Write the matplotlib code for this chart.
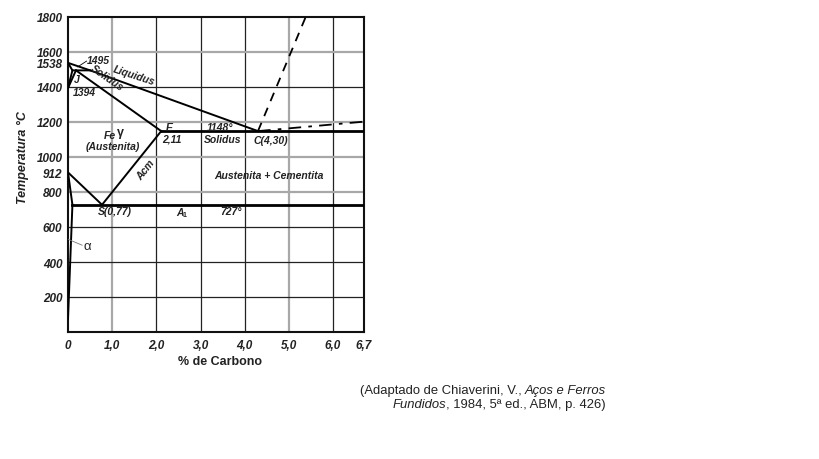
import matplotlib
matplotlib.use("Agg")
import matplotlib.pyplot as plt
from matplotlib.offsetbox import TextArea, HPacker, VPacker, AnnotationBbox

plt.rcParams["font.family"] = ["Liberation Sans", "DejaVu Sans"]

# axis ticks
x_ticks = [0, 1.0, 2.0, 3.0, 4.0, 5.0, 6.0, 6.7]
x_ticklabels = ["0", "1,0", "2,0", "3,0", "4,0", "5,0", "6,0", "6,7"]
y_ticks = [200, 400, 600, 800, 912, 1000, 1200, 1400, 1538, 1600, 1800]
y_ticklabels = ["200", "400", "600", "800", "912", "1000", "1200", "1400", "1538", "1600", "1800"]

# grid lines (dark / light)
vgrid_dark = [2.0, 3.0, 4.0, 6.0]
vgrid_light = [1.0, 5.0]
hgrid_dark = [200, 400, 600, 1400]
hgrid_light = [800, 1000, 1200, 1600]

# phase boundaries (% C, temperature C) - drawn positions
liquidus_x = [0.0, 0.5, 4.3]
liquidus_y = [1538, 1495, 1148]
delta_x = [0.0, 0.1, 0.5]
delta_y = [1538, 1495, 1495]
delta_low1_x = [0.0, 0.1]
delta_low1_y = [1394, 1495]
delta_low2_x = [0.0, 0.18]
delta_low2_y = [1394, 1495]
solidus_x = [0.18, 2.11]
solidus_y = [1495, 1148]
eutectic_x = [2.11, 6.7]
eutectic_y = [1148, 1148]
acm_x = [2.11, 0.77]
acm_y = [1148, 727]
a3_x = [0.0, 0.77]
a3_y = [912, 727]
gp_x = [0.0, 0.1]
gp_y = [912, 727]
solvus_x = [0.1, 0.0]
solvus_y = [727, 75]
eutectoid_x = [0.1, 6.7]
eutectoid_y = [727, 727]
cem_liq_x = [4.3, 5.38]
cem_liq_y = [1148, 1800]
dashdot_x = [4.3, 6.7]
dashdot_y = [1148, 1202]

fig = plt.figure(figsize=(8.19, 4.6), dpi=100)
ax = fig.add_axes([68 / 819, 1 - 333 / 460, 296 / 819, 315 / 460])
ax.set_xlim(0, 6.7)
ax.set_ylim(0, 1800)

for x in vgrid_dark:
    ax.axvline(x, color="#222222", lw=0.9, zorder=1)
for x in vgrid_light:
    ax.axvline(x, color="#a8a8a8", lw=1.6, zorder=1)
for y in hgrid_dark:
    ax.axhline(y, color="#222222", lw=0.9, zorder=1)
for y in hgrid_light:
    ax.axhline(y, color="#a8a8a8", lw=1.6, zorder=1)

lk = dict(color="black", lw=1.4, zorder=3)
ax.plot(liquidus_x, liquidus_y, **lk)
ax.plot(delta_x, delta_y, **lk)
ax.plot(delta_low1_x, delta_low1_y, **lk)
ax.plot(delta_low2_x, delta_low2_y, **lk)
ax.plot(solidus_x, solidus_y, **lk)
ax.plot(acm_x, acm_y, **lk)
ax.plot(a3_x, a3_y, **lk)
ax.plot(gp_x, gp_y, **lk)
ax.plot(solvus_x, solvus_y, **lk)
ax.plot(eutectic_x, eutectic_y, color="black", lw=2.0, zorder=3)
ax.plot(eutectoid_x, eutectoid_y, color="black", lw=2.0, zorder=3)
ax.plot(cem_liq_x, cem_liq_y, color="black", lw=1.3, ls=(0, (5, 4)), zorder=3)
ax.plot(dashdot_x, dashdot_y, color="black", lw=1.3, ls=(0, (7, 4, 2, 4)), zorder=3)

ax.set_xticks(x_ticks)
ax.set_xticklabels(x_ticklabels)
ax.set_yticks(y_ticks)
ax.set_yticklabels(y_ticklabels)
ax.tick_params(length=0, labelsize=8.5, colors="#222222", pad=4)
for lab in ax.get_xticklabels() + ax.get_yticklabels():
    lab.set_fontweight("bold")
    lab.set_fontstyle("italic")
ax.tick_params(axis="x", pad=5)
ax.grid(False)
for s in ax.spines.values():
    s.set_linewidth(1.5)
    s.set_color("#111111")

ax.set_ylabel("Temperatura °C", fontsize=9, fontweight="bold", fontstyle="italic", color="#222222")
ax.yaxis.set_label_coords(-0.133, 0.556)
ax.set_xlabel("% de Carbono", fontsize=9, fontweight="bold", color="#222222")
ax.xaxis.set_label_coords(0.514, -0.073)

tk = dict(fontsize=7.5, fontweight="bold", fontstyle="italic", color="#222222", zorder=4)
ax.text(0.43, 1554, "1495", ha="left", va="center", **tk)
ax.plot([0.22, 0.42], [1515, 1548], color="black", lw=0.6, zorder=3)
ax.text(0.14, 1446, "J", ha="left", va="center", **tk)
ax.text(0.11, 1371, "1394", ha="left", va="center", **tk)
ax.text(1.5, 1470, "Liquidus", ha="center", va="center", rotation=-18, **tk)
ax.text(0.88, 1455, "Solidus", ha="center", va="center", rotation=-35, **tk)
ax.text(2.3, 1171, "E", ha="center", va="center", **tk)
ax.text(2.36, 1103, "2,11", ha="center", va="center", **tk)
ax.text(3.45, 1171, "1148°", ha="center", va="center", **tk)
ax.text(3.5, 1103, "Solidus", ha="center", va="center", **tk)
ax.text(4.6, 1097, "C(4,30)", ha="center", va="center", **tk)
ax.text(1.08, 1128, "Fe", ha="right", va="center", **tk)
ax.text(1.1, 1140, "γ", ha="left", va="center", fontsize=9, fontweight="bold", color="#222222")
ax.text(1.02, 1063, "(Austenita)", ha="center", va="center", **tk)
ax.text(1.75, 931, "Acm", ha="center", va="center", rotation=52, **tk)
ax.text(4.55, 897, "Austenita + Cementita", ha="center", va="center", **tk)
ax.text(1.07, 691, "S(0,77)", ha="center", va="center", **tk)
ax.text(2.53, 688, "A", ha="center", va="center", **tk)
ax.text(2.6, 670, "1", ha="left", va="center", fontsize=5, fontweight="bold", color="#222222")
ax.text(3.7, 693, "727°", ha="center", va="center", **tk)
ax.plot([0.0, 0.32], [530, 496], color="#777777", lw=0.6, zorder=3)
ax.text(0.36, 490, "α", ha="left", va="center", fontsize=9.5, color="#222222")

# source note with mixed italic
fs = 9.4
c = "#222222"
line1 = HPacker(children=[
    TextArea("(Adaptado de Chiaverini, V., ", textprops=dict(fontsize=fs, color=c)),
    TextArea("Aços e Ferros", textprops=dict(fontsize=fs, color=c, fontstyle="italic")),
], align="baseline", pad=0, sep=0)
line2 = HPacker(children=[
    TextArea("Fundidos", textprops=dict(fontsize=fs, color=c, fontstyle="italic")),
    TextArea(", 1984, 5ª ed., ABM, p. 426)", textprops=dict(fontsize=fs, color=c)),
], align="baseline", pad=0, sep=0)
note = VPacker(children=[line1, line2], align="right", pad=0, sep=1)
ab = AnnotationBbox(note, (606 / 819, 1 - 398 / 460), xycoords="figure fraction",
                    box_alignment=(1, 0.5), frameon=False)
fig.add_artist(ab)

fig.savefig("out.png", dpi=100)
